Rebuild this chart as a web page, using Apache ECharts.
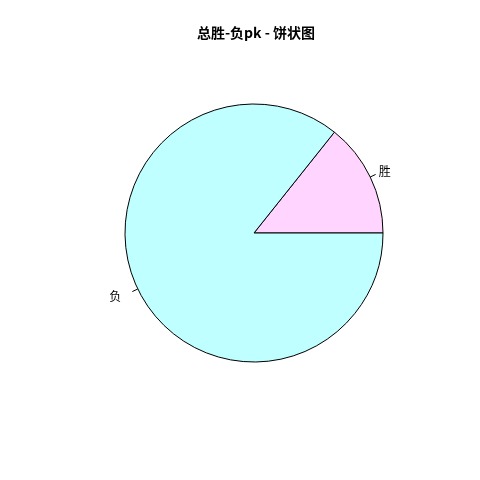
<!DOCTYPE html>
<html><head><meta charset="utf-8">
<script src="https://cdn.jsdelivr.net/npm/echarts@6/dist/echarts.min.js"></script>
<style>html,body{margin:0;padding:0;background:#fff}#c{width:480px;height:480px}</style>
</head><body><div id="c"></div>
<script>
var categories = ['胜', '负'];
var values = [1, 6];
var colors = ['#FFD4FF', '#C0FFFF'];
var titleText = '总胜-负pk - 饼状图';

var chart = echarts.init(document.getElementById('c'), null, {renderer: 'canvas'});
chart.setOption({
  animation: false,
  backgroundColor: '#ffffff',
  title: {
    text: titleText, left: 251, textAlign: 'center', top: 21,
    textStyle: {fontFamily: 'Noto Sans CJK SC', fontWeight: 'bold', fontSize: 14, color: '#000'}
  },
  series: [{
    type: 'pie',
    center: [254, 233],
    radius: [0, 129],
    startAngle: 0,
    clockwise: false,
    minAngle: 0,
    avoidLabelOverlap: false,
    data: categories.map(function (c, i) {
      return {name: c, value: values[i], itemStyle: {color: colors[i]}};
    }),
    itemStyle: {borderColor: '#000', borderWidth: 1},
    label: {
      show: true, position: 'outside',
      formatter: function (p) { return '{r' + p.dataIndex + '|' + p.name + '}'; },
      fontFamily: 'Noto Sans CJK SC', fontSize: 12, color: '#000', distanceToLabelLine: 3,
      rich: {
        r0: {fontFamily: 'Noto Sans CJK SC', fontSize: 12, color: '#000', padding: [0, 0, 6, 0]},
        r1: {fontFamily: 'Noto Sans CJK SC', fontSize: 12, color: '#000', padding: [9, 8, 0, 0]}
      }
    },
    labelLine: {show: true, length: 6, length2: 0, lineStyle: {color: '#000', width: 1}},
    emphasis: {disabled: true}
  }]
});
</script></body></html>
